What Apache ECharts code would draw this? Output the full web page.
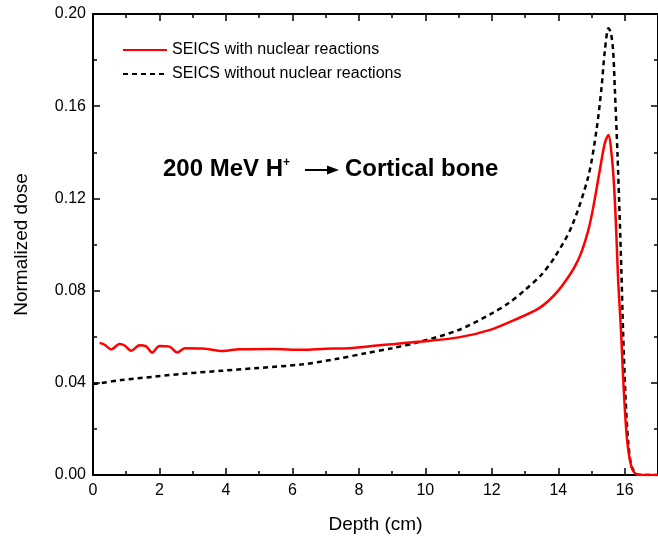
<!DOCTYPE html>
<html>
<head>
<meta charset="utf-8">
<script src="https://cdn.jsdelivr.net/npm/echarts@6/dist/echarts.min.js"></script>
<style>
  html, body { margin: 0; padding: 0; background: #fff; }
  #chart { width: 658px; height: 543px; }
</style>
</head>
<body>
<div id="chart"></div>
<script>
// depth (cm) / normalized dose
var withDepth = [0.2, 0.35, 0.55, 0.8, 0.95, 1.15, 1.4, 1.6, 1.78, 2.0, 2.3, 2.54, 2.76, 3.3, 3.9, 4.4, 5.4, 6.3, 7.0, 7.7, 8.7, 9.8, 11.0, 12.0, 12.8, 13.4, 13.7, 14.0, 14.25, 14.5, 14.7, 14.9, 15.05, 15.25, 15.4, 15.51, 15.6, 15.68, 15.75, 15.8, 15.85, 15.9, 15.97, 16.07, 16.2, 16.35, 16.5, 17];
var withDose = [0.0573, 0.0565, 0.0545, 0.0568, 0.0562, 0.0539, 0.0563, 0.0558, 0.0531, 0.0560, 0.0557, 0.0531, 0.0550, 0.0549, 0.0538, 0.0546, 0.0547, 0.0543, 0.0548, 0.0550, 0.0564, 0.0578, 0.0597, 0.0632, 0.0680, 0.0722, 0.0755, 0.0800, 0.0848, 0.0905, 0.0968, 0.1060, 0.1160, 0.1323, 0.1440, 0.1475, 0.1396, 0.1250, 0.1034, 0.0846, 0.0720, 0.0586, 0.0369, 0.0152, 0.0036, 0.0003, 0, 0];

var withoutDepth = [0, 0.2, 0.85, 1.86, 2.86, 3.86, 4.86, 6.3, 7.3, 8.2, 9.0, 9.84, 11.0, 12.0, 12.5, 13.0, 13.5, 13.9, 14.4, 14.9, 15.15, 15.3, 15.4, 15.51, 15.58, 15.65, 15.7, 15.78, 15.85, 15.9, 15.95, 16.02, 16.1, 16.2, 16.35, 16.5, 17];
var withoutDose = [0.0395, 0.0398, 0.0412, 0.0427, 0.0441, 0.0452, 0.0463, 0.0480, 0.0503, 0.0528, 0.0550, 0.0578, 0.0629, 0.0701, 0.0745, 0.0803, 0.0870, 0.0947, 0.1077, 0.1294, 0.1497, 0.1680, 0.1840, 0.1938, 0.1920, 0.1840, 0.1680, 0.1397, 0.1106, 0.0876, 0.0620, 0.0350, 0.0150, 0.0040, 0.0005, 0, 0];

var seriesNames = ['SEICS with nuclear reactions', 'SEICS without nuclear reactions'];

function pairs(xs, ys) {
  var out = [];
  for (var i = 0; i < xs.length; i++) {
    out.push([xs[i], ys[i]]);
  }
  return out;
}

var font = '"Liberation Sans", Arial, sans-serif';
var lineCol = '#000';

var chart = echarts.init(document.getElementById('chart'));

// frame axes share the same look
function frameAxis(extra) {
  var a = {
    type: 'value',
    axisLine: { show: true, onZero: false, lineStyle: { color: lineCol, width: 2 } },
    axisTick: { inside: true, length: 7, lineStyle: { color: lineCol, width: 1.5 } },
    minorTick: { show: true, splitNumber: 2, length: 4, lineStyle: { color: lineCol, width: 1.5 } },
    splitLine: { show: false }
  };
  for (var k in extra) a[k] = extra[k];
  return a;
}

var option = {
  animation: false,
  grid: { left: 93, top: 14, right: 0, bottom: 68, outerBoundsMode: 'none' },
  legend: {
    orient: 'vertical',
    left: 117,
    top: 37,
    itemWidth: 44,
    itemHeight: 12,
    itemGap: 8,
    itemStyle: { opacity: 0 },
    textStyle: { fontFamily: font, fontSize: 16, color: '#000' },
    data: seriesNames
  },
  graphic: [{
    type: 'text',
    x: 163,
    y: 169,
    style: {
      text: '{a|200 MeV H}{s|+}',
      verticalAlign: 'middle',
      rich: {
        a: { fontFamily: font, fontSize: 24, fontWeight: 'bold', fill: '#000' },
        s: { fontFamily: font, fontSize: 12, fontWeight: 'bold', fill: '#000', verticalAlign: 'top', padding: [0, 0, 12, 0] }
      }
    }
  }, {
    type: 'line',
    shape: { x1: 305, y1: 170, x2: 330, y2: 170 },
    style: { stroke: '#000', lineWidth: 2 }
  }, {
    type: 'polygon',
    shape: { points: [[327, 165.5], [339, 170], [327, 174.5]] },
    style: { fill: '#000' }
  }, {
    type: 'text',
    x: 345,
    y: 169,
    style: {
      text: 'Cortical bone',
      verticalAlign: 'middle',
      fontFamily: font, fontSize: 24, fontWeight: 'bold', fill: '#000'
    }
  }],
  xAxis: [frameAxis({
    min: 0,
    max: 17,
    interval: 2,
    name: 'Depth (cm)',
    nameLocation: 'middle',
    nameGap: 40,
    nameTextStyle: { fontFamily: font, fontSize: 19, color: '#000' },
    axisLabel: {
      fontFamily: font, fontSize: 16, color: '#000', margin: 8,
      formatter: function (v) { return v > 16 ? '' : v; }
    }
  }), frameAxis({
    position: 'top',
    min: 0,
    max: 17,
    interval: 2,
    axisLabel: { show: false }
  })],
  yAxis: [frameAxis({
    min: 0,
    max: 0.2,
    interval: 0.04,
    name: 'Normalized dose',
    nameLocation: 'middle',
    nameGap: 62,
    nameTextStyle: { fontFamily: font, fontSize: 19, color: '#000' },
    axisLabel: {
      fontFamily: font, fontSize: 16, color: '#000', margin: 7,
      formatter: function (v) { return v.toFixed(2); }
    }
  }), frameAxis({
    position: 'right',
    min: 0,
    max: 0.2,
    interval: 0.04,
    axisLabel: { show: false }
  })],
  series: [{
    name: seriesNames[0],
    type: 'line',
    smooth: 0.3,
    showSymbol: false,
    symbol: 'none',
    color: '#ff0000',
    lineStyle: { color: '#ff0000', width: 2.5 },
    data: pairs(withDepth, withDose),
    z: 3
  }, {
    name: seriesNames[1],
    type: 'line',
    smooth: 0.3,
    showSymbol: false,
    symbol: 'none',
    color: '#000',
    lineStyle: { color: '#000', width: 2.5, type: [5, 4] },
    data: pairs(withoutDepth, withoutDose),
    z: 2
  }]
};

chart.setOption(option);
</script>
</body>
</html>
